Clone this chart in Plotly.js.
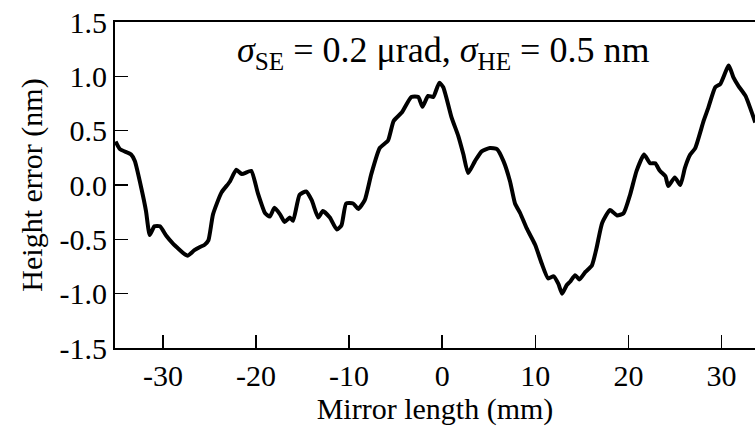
<!DOCTYPE html>
<html>
<head>
<meta charset="utf-8">
<script src="https://cdn.plot.ly/plotly-3.0.1.min.js"></script>
<style>html,body{margin:0;padding:0;background:#fff;}#chart{width:755px;height:426px;}</style>
</head>
<body>
<div id="chart"></div>
<script>
const mirrorLength = [-35.08,-34.62,-33.42,-33.02,-32.32,-31.82,-31.42,-30.92,-30.32,-29.62,-28.92,-28.42,-27.62,-27.32,-26.62,-26.02,-25.52,-25.12,-24.62,-23.72,-22.82,-22.12,-21.52,-20.52,-19.82,-19.02,-18.52,-18.02,-17.42,-16.92,-16.37,-16.02,-15.32,-14.62,-14.02,-13.32,-12.82,-12.07,-11.32,-10.82,-10.32,-9.57,-9.02,-8.32,-7.62,-6.72,-5.82,-5.22,-4.32,-3.32,-2.57,-2.12,-1.52,-0.96,-0.32,0.11,1.01,1.73,2.28,2.78,3.52,4.24,5.13,5.88,6.58,7.28,7.82,8.38,9.08,9.98,10.68,11.38,11.98,12.48,12.88,13.38,13.73,14.28,14.73,15.38,16.08,16.58,17.18,18.03,18.78,19.48,20.18,20.88,21.68,22.33,22.88,23.38,23.98,24.28,24.98,25.58,26.08,26.64,27.18,28.08,28.58,29.33,29.88,30.78,31.28,31.83,32.58,33.63];
const heightError = [0.40,0.33,0.28,0.22,-0.03,-0.24,-0.46,-0.38,-0.38,-0.47,-0.54,-0.58,-0.64,-0.65,-0.60,-0.57,-0.55,-0.51,-0.27,-0.07,0.03,0.14,0.10,0.13,-0.07,-0.26,-0.29,-0.21,-0.27,-0.34,-0.30,-0.33,-0.09,-0.06,-0.14,-0.30,-0.24,-0.30,-0.41,-0.37,-0.17,-0.17,-0.22,-0.14,0.10,0.34,0.41,0.59,0.67,0.81,0.81,0.72,0.82,0.81,0.94,0.90,0.62,0.45,0.28,0.11,0.22,0.31,0.34,0.33,0.22,0.035,-0.17,-0.26,-0.40,-0.55,-0.72,-0.86,-0.84,-0.91,-1.00,-0.92,-0.89,-0.83,-0.87,-0.80,-0.74,-0.58,-0.35,-0.23,-0.28,-0.26,-0.09,0.13,0.28,0.20,0.20,0.13,0.08,-0.01,0.07,0.0,0.16,0.28,0.34,0.59,0.71,0.90,0.93,1.10,0.99,0.91,0.82,0.575];
const xTickVals = [-30,-20,-10,0,10,20,30];
const xTickText = ["-30","-20","-10","0","10","20","30"];
const yTickVals = [-1.5,-1.0,-0.5,0.0,0.5,1.0,1.5];
const yTickText = ["-1.5","-1.0","-0.5","0.0","0.5","1.0","1.5"];

const font = "'Times New Roman', 'Liberation Serif', serif";
Plotly.newPlot('chart', [{
  x: mirrorLength, y: heightError, type: 'scatter', mode: 'lines',
  line: {color: '#000', width: 4, shape: 'spline', smoothing: 0.5},
  hoverinfo: 'skip'
}], {
  width: 755, height: 426,
  margin: {l: 115, r: 0, t: 22, b: 78, pad: 0},
  paper_bgcolor: '#fff', plot_bgcolor: '#fff',
  showlegend: false,
  font: {family: font, color: '#000', size: 30},
  xaxis: {
    range: [-35.15, 33.6], showgrid: false, zeroline: false,
    showline: true, linecolor: '#000', linewidth: 2, mirror: true,
    ticks: 'inside', ticklen: 13, tickwidth: 1.5, tickcolor: '#000',
    tickvals: xTickVals, ticktext: xTickText,
    tickfont: {family: font, size: 30, color: '#000'},
    title: {text: 'Mirror length (mm)', font: {family: font, size: 30, color: '#000'}, standoff: 0}
  },
  yaxis: {
    range: [-1.5, 1.5], showgrid: false, zeroline: false,
    showline: true, linecolor: '#000', linewidth: 2, mirror: false,
    ticks: 'inside', ticklen: 13, tickwidth: 1.5, tickcolor: '#000',
    tickvals: yTickVals, ticktext: yTickText,
    tickfont: {family: font, size: 30, color: '#000'},
    title: {text: 'Height error (nm)', font: {family: font, size: 30, color: '#000'}, standoff: 8}
  },
  annotations: [{
    xref: 'paper', yref: 'paper', x: 0.512, y: 0.905, xanchor: 'center', yanchor: 'middle',
    showarrow: false,
    text: '<i>σ</i><sub>SE</sub> = 0.2 μrad, <i>σ</i><sub>HE</sub> = 0.5 nm',
    font: {family: font, size: 36, color: '#000'}
  }]
}, {displayModeBar: false, staticPlot: true});
</script>
</body>
</html>
